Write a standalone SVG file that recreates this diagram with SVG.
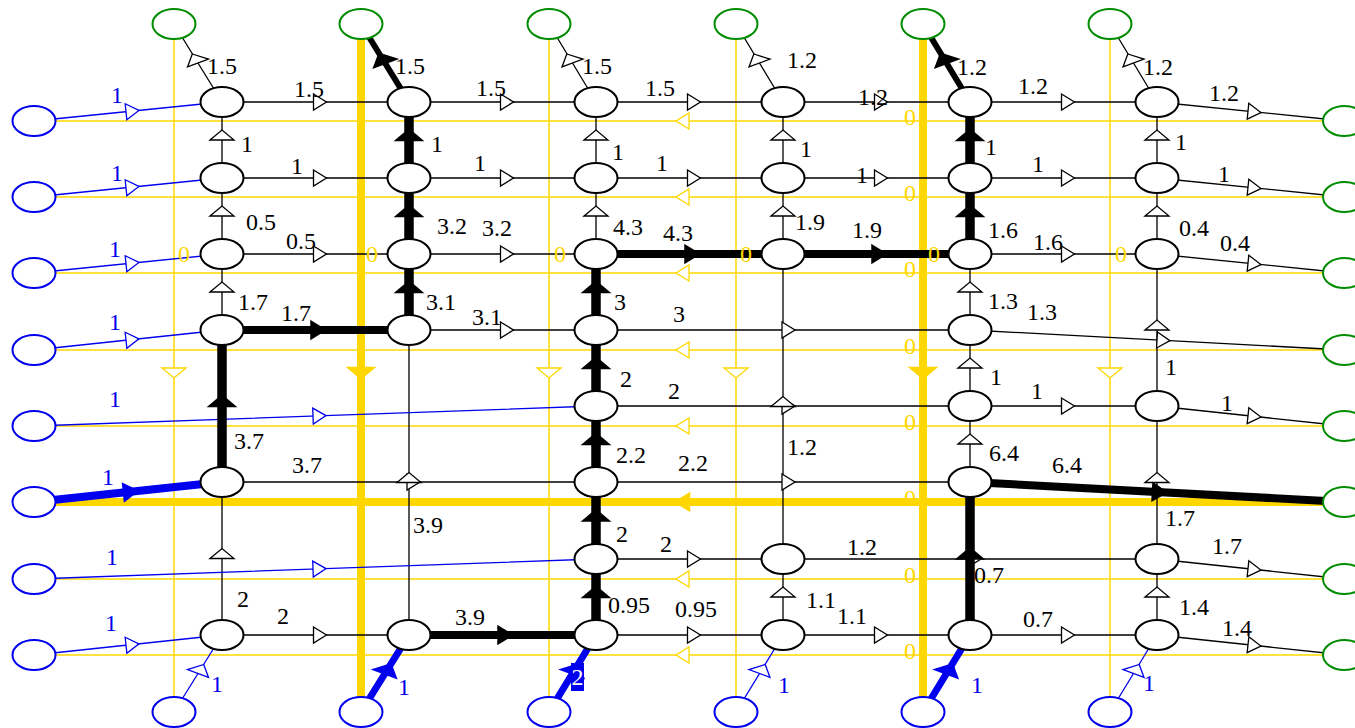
<svg xmlns="http://www.w3.org/2000/svg" width="1355" height="728" viewBox="0 0 1355 728">
<style>
  .y   { fill: none; stroke: #ffd700; stroke-width: 1.5; }
  .yt  { fill: none; stroke: #ffd700; stroke-width: 8; }
  .e   { fill: none; stroke: #000; stroke-width: 1.3; }
  .eb  { fill: none; stroke: #0000ee; stroke-width: 1.3; }
  .et  { fill: none; stroke: #000; stroke-width: 8; }
  .ev  { fill: none; stroke: #000; stroke-width: 9.5; }
  .ed  { fill: none; stroke: #000; stroke-width: 6; }
  .ebt { fill: none; stroke: #0000ee; stroke-width: 8; }
  .ebd { fill: none; stroke: #0000ee; stroke-width: 7; }
  .a   { fill: #fff; stroke: #000; stroke-width: 1.3; }
  .ab  { fill: #fff; stroke: #0000ee; stroke-width: 1.3; }
  .at  { fill: #000; stroke: #000; stroke-width: 2.5; }
  .abt { fill: #0000ee; stroke: #0000ee; stroke-width: 2.5; }
  .ay  { fill: #fff; stroke: #ffd700; stroke-width: 1.3; }
  .ayt { fill: #ffd700; stroke: #ffd700; stroke-width: 2.5; }
  .n   { fill: #fff; stroke: #000; stroke-width: 2; }
  .nb  { fill: #fff; stroke: #0000ee; stroke-width: 2; }
  .ng  { fill: #fff; stroke: #008c00; stroke-width: 2; }
  text { font-family: "Liberation Serif", "Times New Roman", serif; font-size: 24px; text-anchor: middle; fill: #000; }
  .lb text { fill: #0000ee; }
  .ly text { fill: #ffd700; }
  text.lw  { fill: #fff; }
</style>
<defs>
  <!-- arrowheads, base at the origin -->
  <polygon id="ah" points="0,-8 13,0 0,8"/>
  <polygon id="av" points="-12,0 0,-10 12,0"/>
  <polygon id="adl" points="-5.7,-9 10.5,-3.9 -10.5,3.9"/>
  <polygon id="adr" points="5.7,-9 10.5,3.9 -10.5,-3.9"/>
</defs>

<!-- gold return edges -->
<g id="gold-edges">
  <path class="y" d="M174 24V712M549 24V712M736 24V712M1110 24V712"/>
  <path class="yt" d="M361 24V712M923 24V712"/>
  <path class="y" d="M34 121H1344.5M34 197H1344.5M34 273H1344.5M34 350H1344.5M34 426H1344.5M34 579H1344.5M34 655H1344.5"/>
  <path class="yt" d="M34 502H1344.5"/>
  <g class="ay">
    <use href="#ah" transform="translate(689,121) rotate(180)"/>
    <use href="#ah" transform="translate(689,197) rotate(180)"/>
    <use href="#ah" transform="translate(689,273) rotate(180)"/>
    <use href="#ah" transform="translate(689,350) rotate(180)"/>
    <use href="#ah" transform="translate(689,426) rotate(180)"/>
    <use href="#ah" transform="translate(689,579) rotate(180)"/>
    <use href="#ah" transform="translate(689,655) rotate(180)"/>
    <use href="#av" transform="translate(174,368) rotate(180)"/>
    <use href="#av" transform="translate(549,368) rotate(180)"/>
    <use href="#av" transform="translate(736,368) rotate(180)"/>
    <use href="#av" transform="translate(1110,368) rotate(180)"/>
  </g>
  <g class="ayt">
    <use href="#ah" transform="translate(689,502) rotate(180)"/>
    <use href="#av" transform="translate(361,368) rotate(180)"/>
    <use href="#av" transform="translate(923,368) rotate(180)"/>
  </g>
</g>

<!-- flow edges -->
<g id="edges">
  <!-- thin black -->
  <path class="e" d="M222 102L174 24M596 102L549 24M783 102L736 24M1157 102L1110 24"/>
  <path class="e" d="M222 102H409M409 102H596M596 102H783M783 102H970M970 102H1157
    M222 178H409M409 178H596M596 178H783M783 178H970M970 178H1157
    M222 254H409M409 254H596M970 254H1157
    M409 330H596M596 330H970
    M596 406H970M970 406H1157
    M222 482H596M596 482H970
    M596 559H783M783 559H1157
    M222 635H409M596 635H783M783 635H970M970 635H1157"/>
  <path class="e" d="M1157 102L1344.5 121M1157 178L1344.5 197M1157 254L1344.5 273M970 330L1344.5 350M1157 406L1344.5 426M1157 559L1344.5 579M1157 635L1344.5 655"/>
  <path class="e" d="M222 178V102M222 254V178M222 330V254M222 635V482
    M409 635V330
    M596 178V102M596 254V178
    M783 178V102M783 254V178M783 559V254M783 635V559
    M970 330V254M970 406V330M970 482V406
    M1157 178V102M1157 254V178M1157 406V254M1157 559V406M1157 635V559"/>
  <!-- thin blue -->
  <path class="eb" d="M34 121L222 102M34 197L222 178M34 273L222 254M34 350L222 330M34 655L222 635M34 426L596 406M34 579L596 559"/>
  <path class="eb" d="M174 712L222 635M736 712L783 635M1110 712L1157 635"/>

  <g class="a">
    <use href="#ah" x="313.5" y="102"/><use href="#ah" x="500.5" y="102"/><use href="#ah" x="687.5" y="102"/><use href="#ah" x="874.5" y="102"/><use href="#ah" x="1061.5" y="102"/>
    <use href="#ah" x="313.5" y="178"/><use href="#ah" x="500.5" y="178"/><use href="#ah" x="687.5" y="178"/><use href="#ah" x="874.5" y="178"/><use href="#ah" x="1061.5" y="178"/>
    <use href="#ah" x="313.5" y="254"/><use href="#ah" x="500.5" y="254"/><use href="#ah" x="1061.5" y="254"/>
    <use href="#ah" x="500.5" y="330"/><use href="#ah" x="782" y="330"/>
    <use href="#ah" x="782" y="406"/><use href="#ah" x="1061.5" y="406"/>
    <use href="#ah" x="407" y="482"/><use href="#ah" x="782" y="482"/>
    <use href="#ah" x="687.5" y="559"/><use href="#ah" x="968" y="559"/>
    <use href="#ah" x="313.5" y="635"/><use href="#ah" x="687.5" y="635"/><use href="#ah" x="874.5" y="635"/><use href="#ah" x="1061.5" y="635"/>
    <use href="#ah" transform="translate(1248,111.2) rotate(5.8)"/>
    <use href="#ah" transform="translate(1248,187.2) rotate(5.8)"/>
    <use href="#ah" transform="translate(1248,263.2) rotate(5.8)"/>
    <use href="#ah" transform="translate(1157,340) rotate(3.06)"/>
    <use href="#ah" transform="translate(1248,415.7) rotate(6.1)"/>
    <use href="#ah" transform="translate(1248,568.7) rotate(6.1)"/>
    <use href="#ah" transform="translate(1248,644.7) rotate(6.1)"/>
    <use href="#av" x="222" y="140"/><use href="#av" x="222" y="216"/><use href="#av" x="222" y="292"/><use href="#av" x="222" y="558.5"/>
    <use href="#av" x="409" y="482.5"/>
    <use href="#av" x="596" y="140"/><use href="#av" x="596" y="216"/>
    <use href="#av" x="783" y="140"/><use href="#av" x="783" y="216"/><use href="#av" x="783" y="406.5"/><use href="#av" x="783" y="597"/>
    <use href="#av" x="970" y="292"/><use href="#av" x="970" y="368"/><use href="#av" x="970" y="444"/>
    <use href="#av" x="1157" y="140"/><use href="#av" x="1157" y="216"/><use href="#av" x="1157" y="330"/><use href="#av" x="1157" y="482.5"/><use href="#av" x="1157" y="597"/>
    <use href="#adl" x="198" y="63"/><use href="#adl" x="572.5" y="63"/><use href="#adl" x="759.5" y="63"/><use href="#adl" x="1133.5" y="63"/>
  </g>
  <g class="ab">
    <use href="#ah" transform="translate(126,111.7) rotate(-5.77)"/>
    <use href="#ah" transform="translate(126,187.7) rotate(-5.77)"/>
    <use href="#ah" transform="translate(126,263.7) rotate(-5.77)"/>
    <use href="#ah" transform="translate(126,340.2) rotate(-6.07)"/>
    <use href="#ah" transform="translate(126,645.2) rotate(-6.07)"/>
    <use href="#ah" transform="translate(313,416.1) rotate(-2.04)"/>
    <use href="#ah" transform="translate(313,569.1) rotate(-2.04)"/>
    <use href="#adr" x="198" y="673.5"/><use href="#adr" x="759.5" y="673.5"/><use href="#adr" x="1133.5" y="673.5"/>
  </g>

  <!-- heavy black -->
  <path class="ed" d="M409 102L361 24M970 102L923 24"/>
  <path class="et" d="M596 254H783M783 254H970M222 330H409M409 635H596M970 482L1344.5 502"/>
  <path class="ev" d="M222 482V330M409 178V102M409 254V178M409 330V254M596 330V254M596 406V330M596 482V406M596 559V482M596 635V559M970 178V102M970 254V178M970 635V482"/>
  <!-- heavy blue -->
  <path class="ebt" d="M34 502L222 482"/>
  <path class="ebd" d="M361 712L409 635M549 712L596 635M923 712L970 635"/>

  <g class="at">
    <use href="#adl" x="385" y="63"/><use href="#adl" x="946.5" y="63"/>
    <use href="#ah" x="685.5" y="254"/><use href="#ah" x="872.5" y="254"/><use href="#ah" x="311.5" y="330"/><use href="#ah" x="498.5" y="635"/>
    <use href="#ah" transform="translate(1153,491.8) rotate(3.06)"/>
    <use href="#av" x="222" y="406"/>
    <use href="#av" x="409" y="140"/><use href="#av" x="409" y="216"/><use href="#av" x="409" y="292"/>
    <use href="#av" x="596" y="292"/><use href="#av" x="596" y="368"/><use href="#av" x="596" y="444"/><use href="#av" x="596" y="520.5"/><use href="#av" x="596" y="597"/>
    <use href="#av" x="970" y="140"/><use href="#av" x="970" y="216"/><use href="#av" x="970" y="558.5"/>
  </g>
  <g class="abt">
    <use href="#ah" transform="translate(124,492.4) rotate(-6.07)"/>
    <use href="#adr" x="385" y="673.5"/><use href="#adr" x="572.5" y="673.5"/><use href="#adr" x="946.5" y="673.5"/>
  </g>
</g>

<!-- sources on the left -->
<g id="src_l0"><ellipse class="nb" cx="34" cy="121" rx="21.5" ry="15"/></g>
<g id="src_l1"><ellipse class="nb" cx="34" cy="197" rx="21.5" ry="15"/></g>
<g id="src_l2"><ellipse class="nb" cx="34" cy="273" rx="21.5" ry="15"/></g>
<g id="src_l3"><ellipse class="nb" cx="34" cy="350" rx="21.5" ry="15"/></g>
<g id="src_l4"><ellipse class="nb" cx="34" cy="426" rx="21.5" ry="15"/></g>
<g id="src_l5"><ellipse class="nb" cx="34" cy="502" rx="21.5" ry="15"/></g>
<g id="src_l6"><ellipse class="nb" cx="34" cy="579" rx="21.5" ry="15"/></g>
<g id="src_l7"><ellipse class="nb" cx="34" cy="655" rx="21.5" ry="15"/></g>
<!-- sources at the bottom -->
<g id="src_b0"><ellipse class="nb" cx="174" cy="712" rx="21.5" ry="15"/></g>
<g id="src_b1"><ellipse class="nb" cx="361" cy="712" rx="21.5" ry="15"/></g>
<g id="src_b2"><ellipse class="nb" cx="549" cy="712" rx="21.5" ry="15"/></g>
<g id="src_b3"><ellipse class="nb" cx="736" cy="712" rx="21.5" ry="15"/></g>
<g id="src_b4"><ellipse class="nb" cx="923" cy="712" rx="21.5" ry="15"/></g>
<g id="src_b5"><ellipse class="nb" cx="1110" cy="712" rx="21.5" ry="15"/></g>
<!-- sinks at the top -->
<g id="snk_t0"><ellipse class="ng" cx="174" cy="24" rx="21.5" ry="15"/></g>
<g id="snk_t1"><ellipse class="ng" cx="361" cy="24" rx="21.5" ry="15"/></g>
<g id="snk_t2"><ellipse class="ng" cx="549" cy="24" rx="21.5" ry="15"/></g>
<g id="snk_t3"><ellipse class="ng" cx="736" cy="24" rx="21.5" ry="15"/></g>
<g id="snk_t4"><ellipse class="ng" cx="923" cy="24" rx="21.5" ry="15"/></g>
<g id="snk_t5"><ellipse class="ng" cx="1110" cy="24" rx="21.5" ry="15"/></g>
<!-- sinks on the right -->
<g id="snk_r0"><ellipse class="ng" cx="1344.5" cy="121" rx="21.5" ry="15"/></g>
<g id="snk_r1"><ellipse class="ng" cx="1344.5" cy="197" rx="21.5" ry="15"/></g>
<g id="snk_r2"><ellipse class="ng" cx="1344.5" cy="273" rx="21.5" ry="15"/></g>
<g id="snk_r3"><ellipse class="ng" cx="1344.5" cy="350" rx="21.5" ry="15"/></g>
<g id="snk_r4"><ellipse class="ng" cx="1344.5" cy="426" rx="21.5" ry="15"/></g>
<g id="snk_r5"><ellipse class="ng" cx="1344.5" cy="502" rx="21.5" ry="15"/></g>
<g id="snk_r6"><ellipse class="ng" cx="1344.5" cy="579" rx="21.5" ry="15"/></g>
<g id="snk_r7"><ellipse class="ng" cx="1344.5" cy="655" rx="21.5" ry="15"/></g>

<!-- grid nodes -->
<g id="n_r0_c0"><ellipse class="n" cx="222" cy="102" rx="21.5" ry="15"/></g>
<g id="n_r1_c0"><ellipse class="n" cx="222" cy="178" rx="21.5" ry="15"/></g>
<g id="n_r2_c0"><ellipse class="n" cx="222" cy="254" rx="21.5" ry="15"/></g>
<g id="n_r3_c0"><ellipse class="n" cx="222" cy="330" rx="21.5" ry="15"/></g>
<g id="n_r5_c0"><ellipse class="n" cx="222" cy="482" rx="21.5" ry="15"/></g>
<g id="n_r7_c0"><ellipse class="n" cx="222" cy="635" rx="21.5" ry="15"/></g>
<g id="n_r0_c1"><ellipse class="n" cx="409" cy="102" rx="21.5" ry="15"/></g>
<g id="n_r1_c1"><ellipse class="n" cx="409" cy="178" rx="21.5" ry="15"/></g>
<g id="n_r2_c1"><ellipse class="n" cx="409" cy="254" rx="21.5" ry="15"/></g>
<g id="n_r3_c1"><ellipse class="n" cx="409" cy="330" rx="21.5" ry="15"/></g>
<g id="n_r7_c1"><ellipse class="n" cx="409" cy="635" rx="21.5" ry="15"/></g>
<g id="n_r0_c2"><ellipse class="n" cx="596" cy="102" rx="21.5" ry="15"/></g>
<g id="n_r1_c2"><ellipse class="n" cx="596" cy="178" rx="21.5" ry="15"/></g>
<g id="n_r2_c2"><ellipse class="n" cx="596" cy="254" rx="21.5" ry="15"/></g>
<g id="n_r3_c2"><ellipse class="n" cx="596" cy="330" rx="21.5" ry="15"/></g>
<g id="n_r4_c2"><ellipse class="n" cx="596" cy="406" rx="21.5" ry="15"/></g>
<g id="n_r5_c2"><ellipse class="n" cx="596" cy="482" rx="21.5" ry="15"/></g>
<g id="n_r6_c2"><ellipse class="n" cx="596" cy="559" rx="21.5" ry="15"/></g>
<g id="n_r7_c2"><ellipse class="n" cx="596" cy="635" rx="21.5" ry="15"/></g>
<g id="n_r0_c3"><ellipse class="n" cx="783" cy="102" rx="21.5" ry="15"/></g>
<g id="n_r1_c3"><ellipse class="n" cx="783" cy="178" rx="21.5" ry="15"/></g>
<g id="n_r2_c3"><ellipse class="n" cx="783" cy="254" rx="21.5" ry="15"/></g>
<g id="n_r6_c3"><ellipse class="n" cx="783" cy="559" rx="21.5" ry="15"/></g>
<g id="n_r7_c3"><ellipse class="n" cx="783" cy="635" rx="21.5" ry="15"/></g>
<g id="n_r0_c4"><ellipse class="n" cx="970" cy="102" rx="21.5" ry="15"/></g>
<g id="n_r1_c4"><ellipse class="n" cx="970" cy="178" rx="21.5" ry="15"/></g>
<g id="n_r2_c4"><ellipse class="n" cx="970" cy="254" rx="21.5" ry="15"/></g>
<g id="n_r3_c4"><ellipse class="n" cx="970" cy="330" rx="21.5" ry="15"/></g>
<g id="n_r4_c4"><ellipse class="n" cx="970" cy="406" rx="21.5" ry="15"/></g>
<g id="n_r5_c4"><ellipse class="n" cx="970" cy="482" rx="21.5" ry="15"/></g>
<g id="n_r7_c4"><ellipse class="n" cx="970" cy="635" rx="21.5" ry="15"/></g>
<g id="n_r0_c5"><ellipse class="n" cx="1157" cy="102" rx="21.5" ry="15"/></g>
<g id="n_r1_c5"><ellipse class="n" cx="1157" cy="178" rx="21.5" ry="15"/></g>
<g id="n_r2_c5"><ellipse class="n" cx="1157" cy="254" rx="21.5" ry="15"/></g>
<g id="n_r4_c5"><ellipse class="n" cx="1157" cy="406" rx="21.5" ry="15"/></g>
<g id="n_r6_c5"><ellipse class="n" cx="1157" cy="559" rx="21.5" ry="15"/></g>
<g id="n_r7_c5"><ellipse class="n" cx="1157" cy="635" rx="21.5" ry="15"/></g>

<!-- edge labels -->
<g id="labels">
  <g class="ly">
    <text x="910" y="125">0</text><text x="910" y="201">0</text><text x="910" y="277">0</text><text x="910" y="354">0</text>
    <text x="910" y="430">0</text><text x="910" y="506">0</text><text x="910" y="583">0</text><text x="910" y="659">0</text>
    <text x="184" y="262">0</text><text x="372" y="262">0</text><text x="560" y="262">0</text><text x="746" y="262">0</text><text x="934" y="262">0</text><text x="1121" y="262">0</text>
  </g>
  <g class="lb">
    <text x="117" y="103">1</text><text x="117" y="181">1</text><text x="115" y="257">1</text><text x="115" y="330">1</text>
    <text x="115" y="407">1</text><text x="108" y="485">1</text><text x="112" y="565">1</text><text x="111" y="631">1</text>
    <text x="217" y="692">1</text><text x="404" y="695">1</text><text x="784" y="693">1</text><text x="977" y="693">1</text><text x="1149" y="691">1</text>
  </g>
  <rect x="571" y="663" width="13" height="28" fill="#0000ee"/>
  <text class="lw" x="577.5" y="685">2</text>
  <g>
    <text x="222" y="74">1.5</text><text x="410" y="74">1.5</text><text x="597" y="74">1.5</text><text x="802" y="68">1.2</text><text x="972" y="75">1.2</text><text x="1158" y="75">1.2</text>
    <text x="309" y="97">1.5</text><text x="491" y="96">1.5</text><text x="660" y="96">1.5</text><text x="873" y="105">1.2</text><text x="1033" y="94">1.2</text><text x="1224" y="101">1.2</text>
    <text x="247" y="152">1</text><text x="437" y="152">1</text><text x="618" y="160">1</text><text x="806" y="157">1</text><text x="991" y="155">1</text><text x="1181" y="150">1</text>
    <text x="297" y="174">1</text><text x="480" y="171">1</text><text x="662" y="171">1</text><text x="862" y="183">1</text><text x="1038" y="172">1</text><text x="1224" y="182">1</text>
    <text x="261" y="230">0.5</text><text x="452" y="234">3.2</text><text x="628" y="235">4.3</text><text x="810" y="230">1.9</text><text x="1003" y="238">1.6</text><text x="1194" y="236">0.4</text>
    <text x="301" y="249">0.5</text><text x="497" y="236">3.2</text><text x="678" y="241">4.3</text><text x="867" y="238">1.9</text><text x="1048" y="250">1.6</text><text x="1235" y="251">0.4</text>
    <text x="253" y="310">1.7</text><text x="441" y="310">3.1</text><text x="620" y="310">3</text><text x="1003" y="309">1.3</text>
    <text x="296" y="321">1.7</text><text x="487" y="325">3.1</text><text x="679" y="322">3</text><text x="1042" y="320">1.3</text>
    <text x="1171" y="375">1</text><text x="626" y="387">2</text><text x="996" y="385">1</text>
    <text x="674" y="399">2</text><text x="1037" y="399">1</text><text x="1227" y="411">1</text>
    <text x="249" y="449">3.7</text><text x="631" y="463">2.2</text><text x="802" y="455">1.2</text><text x="1004" y="461">6.4</text>
    <text x="307" y="473">3.7</text><text x="693" y="471">2.2</text><text x="1067" y="473">6.4</text>
    <text x="428" y="533">3.9</text><text x="622" y="542">2</text><text x="1180" y="526">1.7</text>
    <text x="666" y="552">2</text><text x="862" y="555">1.2</text><text x="1227" y="554">1.7</text>
    <text x="243" y="607">2</text><text x="629" y="613">0.95</text><text x="821" y="608">1.1</text><text x="989" y="583">0.7</text><text x="1194" y="615">1.4</text>
    <text x="283" y="624">2</text><text x="470" y="625">3.9</text><text x="696" y="617">0.95</text><text x="852" y="624">1.1</text><text x="1038" y="627">0.7</text><text x="1237" y="636">1.4</text>
  </g>
</g>
</svg>
